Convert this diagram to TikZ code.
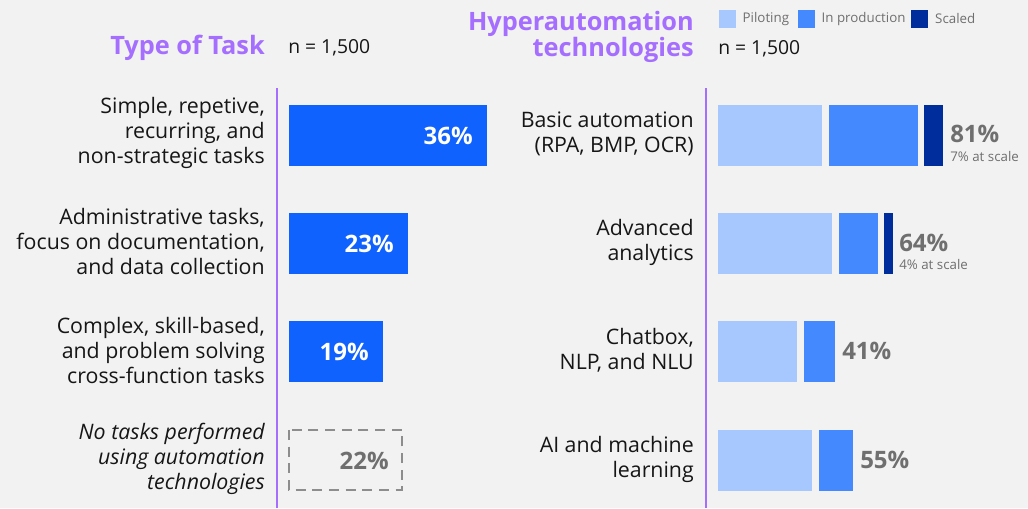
\documentclass[tikz,border=0pt]{standalone}
\usepackage{fontspec}
\setmainfont{Open Sans}
\usetikzlibrary{positioning}
\definecolor{bggray}{HTML}{F2F2F2}
\definecolor{titlepurple}{HTML}{A56EFF}
\definecolor{textblack}{HTML}{161616}
\definecolor{taskblue}{HTML}{0F62FE}
\definecolor{pilotblue}{HTML}{A6C8FF}
\definecolor{prodblue}{HTML}{4589FF}
\definecolor{scaledblue}{HTML}{002D9C}
\definecolor{pctgray}{HTML}{6F6F6F}
\definecolor{dashgray}{HTML}{8D8D8D}

\begin{document}
\begin{tikzpicture}[x=0.75pt,y=-0.75pt,every node/.style={inner sep=0pt},
  titletext/.style={text=titlepurple,font=\fontsize{19}{17.25}\selectfont\bfseries},
  rowlabel/.style={anchor=east,align=right,text=textblack,font=\fontsize{16}{18.75}\selectfont},
  countlabel/.style={anchor=west,text=textblack,font=\fontsize{14.5}{15}\selectfont},
  inpct/.style={anchor=east,text=white,font=\fontsize{18}{20}\selectfont\bfseries},
  outpct/.style={anchor=west,text=pctgray,font=\fontsize{18}{20}\selectfont\bfseries},
  scalenote/.style={anchor=west,text=pctgray,font=\fontsize{10}{12}\selectfont},
  legbox/.style={minimum width=12.75pt,minimum height=13.5pt},
  legtext/.style={text=pctgray,font=\fontsize{10}{12}\selectfont},
  divider/.style={titlepurple,line width=1.5pt}]
\fill[bggray](0,0)rectangle(1028,508);
\node[titletext,anchor=base east](tasktitle)at(265,55){Type of Task};
\node[countlabel](taskcount)at(288,48){n = 1,500};
\node[titletext,anchor=east,align=right](techtitle)at(694,37){Hyperautomation\\technologies};
\node[countlabel](techcount)at(718,49){n = 1,500};
\node[legbox,fill=pilotblue](legpilot)at(727,19){};
\node[legtext,right=5pt of legpilot](legpilottext){Piloting};
\node[legbox,fill=prodblue](legprod)at(806,19){};
\node[legtext,right=5pt of legprod](legprodtext){In production};
\node[legbox,fill=scaledblue](legscaled)at(919.5,19){};
\node[legtext,right=5pt of legscaled](legscaledtext){Scaled};
\draw[divider](277,88)--(277,508);
\draw[divider](706,88)--(706,508);
\foreach \y/\t [count=\i] in {133/{Simple, repetive,\\recurring, and\\non-strategic tasks},242/{Administrative tasks,\\focus on documentation,\\and data collection},351/{Complex, skill-based,\\and problem solving\\cross-function tasks}}
{\node[rowlabel](tasklabel\i)at(265,\y){\t};}
\node[rowlabel,font=\fontsize{16}{18.75}\selectfont\itshape](tasklabel4)at(265,459){No tasks performed\\using automation\\technologies};
\foreach \y/\w/\p [count=\i] in {105/487/36,213/408/23,321/383/19}
{
\fill[taskblue](289,\y)rectangle(\w,\y+61);
\node[inpct](taskpct\i)at(\w-14,\y+31){\p\%};
}
\draw[dashgray,line width=1.5pt,dash pattern=on 7.5pt off 5pt](289,430)rectangle(402,490);
\node[inpct,text=pctgray](taskpct4)at(389,461){22\%};
\foreach \y/\t [count=\i] in {134/{Basic automation\\(RPA, BMP, OCR)},242/{Advanced\\analytics},350/{Chatbox,\\NLP, and NLU},459/{AI and machine\\learning}}
{\node[rowlabel](techlabel\i)at(694,\y){\t};}
\foreach \y/\a/\b in {105/822/918,213/832/878,321/797/835,430/812/853}
{
\fill[pilotblue](718,\y)rectangle(\a,\y+61);
\fill[prodblue](\a+7,\y)rectangle(\b,\y+61);
}
\fill[scaledblue](924,105)rectangle(943,166);
\fill[scaledblue](884,213)rectangle(893,274);
\node[outpct](techpct1)at(950,134){81\%};
\node[scalenote](techscale1)at(950,157){7\% at scale};
\node[outpct](techpct2)at(899,243){64\%};
\node[scalenote](techscale2)at(899,265){4\% at scale};
\node[outpct](techpct3)at(842,351){41\%};
\node[outpct](techpct4)at(860,460){55\%};
\end{tikzpicture}
\end{document}
